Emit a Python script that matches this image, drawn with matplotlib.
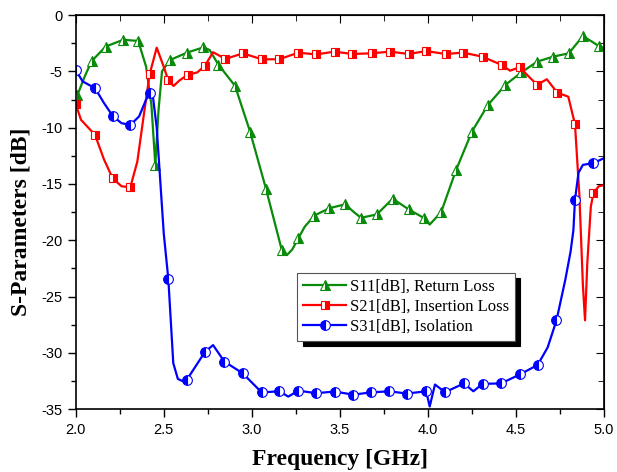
import matplotlib
matplotlib.use("Agg")
from matplotlib import pyplot as plt
from matplotlib.ticker import MultipleLocator

plt.rcParams["axes.unicode_minus"] = False

# S11 return loss
s11_f = [2.00, 2.01, 2.05, 2.09, 2.17, 2.27, 2.355, 2.40, 2.43, 2.452, 2.47, 2.49, 2.535,
         2.63, 2.725, 2.76, 2.81, 2.905, 2.99, 3.08, 3.17, 3.20, 3.23, 3.265, 3.30, 3.355,
         3.44, 3.53, 3.58, 3.62, 3.71, 3.80, 3.89, 3.98, 4.01, 4.075, 4.16, 4.25, 4.34,
         4.44, 4.53, 4.62, 4.71, 4.80, 4.88, 4.97, 5.00]
s11_db = [-7.3, -7.1, -5.5, -4.1, -2.8, -2.2, -2.3, -4.6, -8.0, -13.3, -8.5, -5.0, -4.0,
          -3.35, -2.87, -3.1, -4.4, -6.3, -10.35, -15.4, -20.85, -21.3, -20.8, -19.8, -18.8, -17.8,
          -17.15, -16.8, -17.5, -18.0, -17.7, -16.3, -17.25, -18.04, -18.6, -17.5, -13.75, -10.35, -8.0,
          -6.2, -5.1, -4.14, -3.7, -3.4, -1.86, -2.75, -2.95]
s11_mk = [1, 3, 4, 5, 6, 9, 12, 13, 14, 16, 17, 18, 19, 20, 23, 25, 26, 27, 29, 30, 31, 32,
          33, 35, 36, 37, 38, 39, 40, 41, 42, 43, 44, 45]

# S21 insertion loss
s21_f = [2.00, 2.03, 2.11, 2.16, 2.21, 2.26, 2.31, 2.35, 2.39, 2.42, 2.46, 2.50, 2.525,
         2.555, 2.59, 2.636, 2.69, 2.734, 2.78, 2.85, 2.95, 3.056, 3.156, 3.264, 3.365,
         3.47, 3.57, 3.68, 3.785, 3.89, 3.99, 4.10, 4.20, 4.31, 4.42, 4.466, 4.52, 4.62,
         4.675, 4.735, 4.797, 4.835, 4.86, 4.88, 4.892, 4.905, 4.925, 4.94, 4.97, 5.00]
s21_db = [-7.9, -9.3, -10.65, -12.8, -14.5, -15.2, -15.3, -13.0, -8.5, -5.24, -2.9, -4.6, -5.77,
          -6.3, -5.8, -5.3, -5.1, -4.5, -3.3, -3.9, -3.4, -3.93, -3.93, -3.34, -3.5,
          -3.25, -3.46, -3.4, -3.25, -3.46, -3.2, -3.46, -3.34, -3.7, -4.44, -4.94, -4.64, -6.2,
          -5.7, -6.9, -7.25, -9.7, -16.0, -24.0, -27.1, -22.0, -17.0, -15.8, -15.2, -15.1]
s21_mk = [0, 2, 4, 6, 9, 12, 15, 17, 19, 20, 21, 22, 23, 24, 25, 26, 27, 28, 29, 30, 31, 32,
          33, 34, 36, 37, 39, 41, 47]

# S31 isolation
s31_f = [2.00, 2.04, 2.11, 2.16, 2.21, 2.26, 2.31, 2.36, 2.40, 2.42, 2.435, 2.46, 2.50,
         2.526, 2.554, 2.58, 2.607, 2.63, 2.68, 2.734, 2.78, 2.844, 2.948, 3.056, 3.156,
         3.207, 3.264, 3.365, 3.47, 3.576, 3.675, 3.78, 3.88, 3.99, 4.01, 4.04, 4.097,
         4.205, 4.258, 4.31, 4.415, 4.523, 4.623, 4.68, 4.73, 4.78, 4.81, 4.826, 4.835,
         4.855, 4.88, 4.94, 5.00]
s31_db = [-4.9, -5.9, -6.5, -7.8, -8.96, -9.6, -9.76, -9.0, -7.5, -6.9, -6.8, -10.0, -19.4,
          -23.45, -30.9, -32.3, -32.5, -32.4, -31.2, -29.9, -29.3, -30.76, -31.8, -33.5, -33.4,
          -33.87, -33.34, -33.57, -33.42, -33.7, -33.5, -33.4, -33.6, -33.4, -34.75, -32.8, -33.48,
          -32.7, -33.4, -32.74, -32.7, -31.9, -31.06, -29.5, -27.1, -23.5, -21.0, -19.1, -16.4,
          -14.0, -13.3, -13.15, -12.7]
s31_mk = [0, 2, 4, 6, 9, 13, 17, 19, 21, 22, 23, 24, 26, 27, 28, 29, 30, 31, 32, 33, 36,
          37, 39, 40, 41, 42, 44, 48, 51]

serif = "Liberation Serif"
sans = "Liberation Sans"

fig = plt.figure(figsize=(6.17, 4.72), dpi=100)
ax = fig.add_axes([0.1227, 0.1328, 0.8563, 0.8354])

green = "#0a8a0a"
red = "#ff0000"
blue = "#0000ff"

ax.plot(s11_f, s11_db, color=green, lw=1.6, marker="^", ms=7, fillstyle="right",
        markerfacecoloralt="white", mec=green, mew=0.8, markevery=s11_mk,
        label="S11[dB], Return Loss")
ax.plot(s21_f, s21_db, color=red, lw=1.6, marker="s", ms=6, fillstyle="right",
        markerfacecoloralt="white", mec=red, mew=0.8, markevery=s21_mk,
        label="S21[dB], Insertion Loss")
ax.plot(s31_f, s31_db, color=blue, lw=1.6, marker="o", ms=7, fillstyle="left",
        markerfacecoloralt="white", mec=blue, mew=0.8, markevery=s31_mk,
        label="S31[dB], Isolation")

ax.set_xlim(2.0, 5.0)
ax.set_ylim(-35, 0)
ax.xaxis.set_major_locator(MultipleLocator(0.5))
ax.xaxis.set_minor_locator(MultipleLocator(0.25))
ax.yaxis.set_major_locator(MultipleLocator(5))
ax.yaxis.set_minor_locator(MultipleLocator(2.5))
ax.set_xticklabels(["{:.1f}".format(v) for v in ax.get_xticks()])
ax.tick_params(which="both", direction="out", width=1, labelsize=10.5)
ax.tick_params(which="major", length=6)
ax.tick_params(which="minor", length=3.5)
for lab in ax.get_xticklabels() + ax.get_yticklabels():
    lab.set_fontfamily(sans)

# top and right ticks point inward, no labels
top = ax.secondary_xaxis("top")
top.xaxis.set_major_locator(MultipleLocator(0.5))
top.xaxis.set_minor_locator(MultipleLocator(0.25))
top.tick_params(which="both", direction="in", labeltop=False)
top.tick_params(which="major", length=6)
top.tick_params(which="minor", length=4)
right = ax.secondary_yaxis("right")
right.yaxis.set_major_locator(MultipleLocator(5))
right.yaxis.set_minor_locator(MultipleLocator(2.5))
right.tick_params(which="both", direction="in", labelright=False)
right.tick_params(which="major", length=6)
right.tick_params(which="minor", length=4)

for sp in ax.spines.values():
    sp.set_linewidth(1.2)

ax.set_xlabel("Frequency [GHz]", fontfamily=serif, fontweight="bold", fontsize=17)
ax.set_ylabel("S-Parameters [dB]", fontfamily=serif, fontweight="bold", fontsize=17)
ax.xaxis.set_label_coords(0.5, -0.10)
ax.yaxis.set_label_coords(-0.083, 0.475)

leg = ax.legend(loc="upper left", bbox_to_anchor=(0.419, 0.346), borderaxespad=0,
                prop={"family": serif, "size": 12}, fancybox=False, framealpha=1,
                edgecolor="#555555", handlelength=2.6, handletextpad=0.2,
                labelspacing=0.25, borderpad=0.35,
                shadow={"color": "black", "alpha": 1, "ox": 4, "oy": -4})
leg.get_frame().set_linewidth(0.8)

plt.savefig("out.png", dpi=100)
